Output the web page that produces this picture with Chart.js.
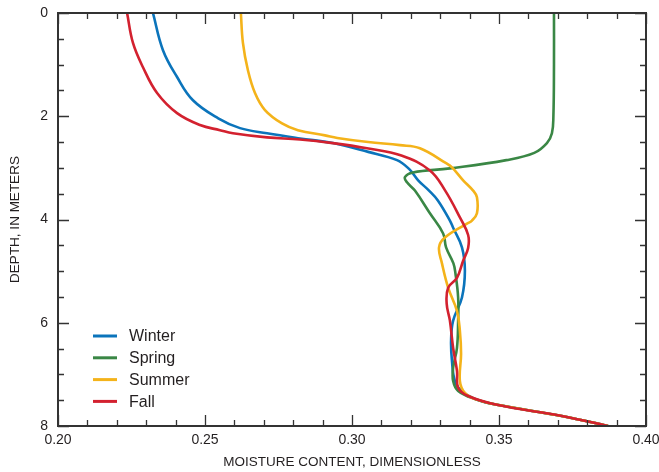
<!DOCTYPE html>
<html>
<head>
<meta charset="utf-8">
<script src="https://cdn.jsdelivr.net/npm/chart.js@4.4.0/dist/chart.umd.min.js"></script>
<style>
  html, body { margin: 0; padding: 0; background: #fff; }
</style>
</head>
<body>
<canvas id="moistureChart" width="659" height="472"></canvas>
<script>
// Saisons et couleurs
const seasons = ['Winter', 'Spring', 'Summer', 'Fall'];
const seasonColors = ['#0b74bb', '#3a8745', '#f4b31a', '#d3212f'];

// Profils : profondeur (m) et teneur en eau
const winterDepth = [0, 0.72, 1.24, 1.69, 2.04, 2.23, 2.33, 2.43, 2.52, 2.69, 2.85, 3.02, 3.24, 3.44, 3.63, 4.02, 4.16, 4.54, 4.99, 5.51, 5.96, 6.35, 6.74, 7.13, 7.32, 7.48, 7.59, 7.81, 8.0];
const winterMoisture = [0.2323, 0.2357, 0.2405, 0.2459, 0.2545, 0.2619, 0.2711, 0.2823, 0.2935, 0.3055, 0.3153, 0.3194, 0.3225, 0.3262, 0.3292, 0.3333, 0.3344, 0.3374, 0.3384, 0.3374, 0.3344, 0.3337, 0.3340, 0.3350, 0.3372, 0.3420, 0.3493, 0.3718, 0.3871];

const springDepth = [0, 1.0, 2.0, 2.33, 2.52, 2.71, 2.85, 3.01, 3.09, 3.18, 3.28, 3.44, 3.88, 4.27, 4.54, 4.85, 5.05, 5.51, 5.96, 6.49, 6.87, 7.13, 7.32, 7.48, 7.59, 7.81, 8.0];
const springMoisture = [0.3687, 0.3687, 0.3685, 0.3680, 0.3663, 0.3620, 0.3525, 0.3333, 0.3207, 0.3180, 0.3187, 0.3214, 0.3265, 0.3310, 0.3320, 0.3345, 0.3352, 0.3361, 0.3361, 0.3357, 0.3344, 0.3344, 0.3361, 0.3420, 0.3493, 0.3718, 0.3871];

const summerDepth = [0, 0.58, 1.11, 1.55, 1.88, 2.14, 2.27, 2.37, 2.42, 2.50, 2.56, 2.62, 2.91, 2.99, 3.24, 3.44, 3.57, 3.88, 4.02, 4.08, 4.35, 4.54, 4.85, 5.32, 5.77, 6.16, 6.60, 7.13, 7.36, 7.48, 7.59, 7.81, 8.0];
const summerMoisture = [0.2622, 0.2629, 0.2646, 0.2670, 0.2704, 0.2762, 0.2816, 0.2908, 0.2950, 0.3055, 0.3163, 0.3231, 0.3320, 0.3340, 0.3378, 0.3412, 0.3425, 0.3425, 0.3408, 0.3391, 0.3316, 0.3296, 0.3306, 0.3327, 0.3357, 0.3367, 0.3371, 0.3367, 0.3384, 0.3420, 0.3493, 0.3718, 0.3871];

const fallDepth = [0, 0.58, 1.05, 1.55, 1.94, 2.17, 2.27, 2.33, 2.41, 2.45, 2.52, 2.62, 2.76, 3.05, 3.44, 3.96, 4.30, 4.55, 4.80, 5.13, 5.32, 5.63, 5.96, 6.49, 6.93, 7.26, 7.42, 7.59, 7.81, 8.0];
const fallMoisture = [0.2235, 0.2255, 0.2289, 0.2337, 0.2405, 0.2483, 0.2551, 0.2595, 0.2711, 0.2823, 0.2935, 0.3051, 0.3168, 0.3265, 0.3317, 0.3367, 0.3395, 0.3395, 0.3378, 0.3357, 0.3327, 0.3322, 0.3333, 0.3344, 0.3357, 0.3361, 0.3395, 0.3493, 0.3718, 0.3871];

// Axes
const xTicks = [0.20, 0.25, 0.30, 0.35, 0.40];
const yTicks = [0, 2, 4, 6, 8];
const xMinorStep = 0.01;
const yMinorStep = 0.5;

const axisColor = '#333333';
const textColor = '#231f20';
const labelFont = "'Liberation Sans', Arial, sans-serif";

const depths = [winterDepth, springDepth, summerDepth, fallDepth];
const moistures = [winterMoisture, springMoisture, summerMoisture, fallMoisture];

// Cadre + graduations vers l'intérieur sur les quatre côtés
const frameTicks = {
  id: 'frameTicks',
  afterDatasetsDraw(chart) {
    const { ctx, chartArea: a, scales: { x, y } } = chart;
    ctx.save();
    ctx.strokeStyle = axisColor;
    ctx.lineWidth = 1.3;
    ctx.beginPath();
    const nx = Math.round((xTicks[xTicks.length - 1] - xTicks[0]) / xMinorStep);
    for (let i = 0; i <= nx; i++) {
      const px = Math.round(x.getPixelForValue(xTicks[0] + i * xMinorStep)) + 0.5;
      const len = i % 5 === 0 ? 11 : 6;
      ctx.moveTo(px, a.bottom); ctx.lineTo(px, a.bottom - len);
      ctx.moveTo(px, a.top); ctx.lineTo(px, a.top + len);
    }
    const ny = Math.round((yTicks[yTicks.length - 1] - yTicks[0]) / yMinorStep);
    for (let i = 0; i <= ny; i++) {
      const py = Math.round(y.getPixelForValue(yTicks[0] + i * yMinorStep)) + 0.5;
      const len = i % 4 === 0 ? 11 : 6;
      ctx.moveTo(a.left, py); ctx.lineTo(a.left + len, py);
      ctx.moveTo(a.right, py); ctx.lineTo(a.right - len, py);
    }
    ctx.stroke();
    ctx.lineWidth = 2;
    ctx.strokeRect(a.left, a.top, a.right - a.left, a.bottom - a.top);
    ctx.restore();
  }
};

// Légende dans le coin inférieur gauche
const seasonLegend = {
  id: 'seasonLegend',
  afterDraw(chart) {
    const { ctx, chartArea: a } = chart;
    ctx.save();
    ctx.font = "16px " + labelFont;
    ctx.textBaseline = 'middle';
    chart.data.datasets.forEach((ds, i) => {
      const yy = a.bottom - 90 + i * 21.8;
      ctx.strokeStyle = ds.borderColor;
      ctx.lineWidth = 3;
      ctx.beginPath();
      ctx.moveTo(a.left + 35, yy);
      ctx.lineTo(a.left + 59, yy);
      ctx.stroke();
      ctx.fillStyle = textColor;
      ctx.fillText(ds.label, a.left + 71, yy + 1);
    });
    ctx.restore();
  }
};

new Chart(document.getElementById('moistureChart'), {
  type: 'scatter',
  data: {
    datasets: seasons.map((name, i) => ({
      label: name,
      data: depths[i].map((d, k) => ({ x: moistures[i][k], y: d })),
      borderColor: seasonColors[i],
      backgroundColor: seasonColors[i],
      borderWidth: 2.6,
      pointRadius: 0,
      showLine: true,
      tension: 0.4,
      order: seasons.length - i,
    })),
  },
  options: {
    responsive: false,
    animation: false,
    layout: { padding: { top: 13, right: 13, left: 0, bottom: 0 } },
    plugins: {
      legend: { display: false },
      tooltip: { enabled: false },
    },
    scales: {
      x: {
        type: 'linear',
        position: 'bottom',
        min: xTicks[0],
        max: xTicks[xTicks.length - 1],
        afterBuildTicks: (s) => { s.ticks = xTicks.map(v => ({ value: v })); },
        afterFit: (s) => { s.height = 46; s.paddingLeft = 0; s.paddingRight = 0; },
        grid: { display: false, drawTicks: false },
        border: { display: false },
        ticks: {
          padding: 6,
          color: textColor,
          font: { family: labelFont, size: 14 },
          callback: (v) => Number(v).toFixed(2),
          maxRotation: 0,
        },
        title: {
          display: true,
          text: 'MOISTURE CONTENT, DIMENSIONLESS',
          color: textColor,
          font: { family: labelFont, size: 13.5 },
          padding: { top: 0, bottom: 2 },
        },
      },
      y: {
        type: 'linear',
        position: 'left',
        reverse: true,
        min: yTicks[0],
        max: yTicks[yTicks.length - 1],
        afterBuildTicks: (s) => { s.ticks = yTicks.map(v => ({ value: v })); },
        afterFit: (s) => { s.width = 58; s.paddingTop = 0; s.paddingBottom = 0; },
        grid: { display: false, drawTicks: false },
        border: { display: false },
        ticks: {
          padding: 10,
          color: textColor,
          font: { family: labelFont, size: 14 },
          callback: (v) => String(v),
        },
        title: {
          display: true,
          text: 'DEPTH, IN METERS',
          color: textColor,
          font: { family: labelFont, size: 13.5 },
          padding: { top: 7, bottom: 0 },
        },
      },
    },
  },
  plugins: [frameTicks, seasonLegend],
});
</script>
</body>
</html>
